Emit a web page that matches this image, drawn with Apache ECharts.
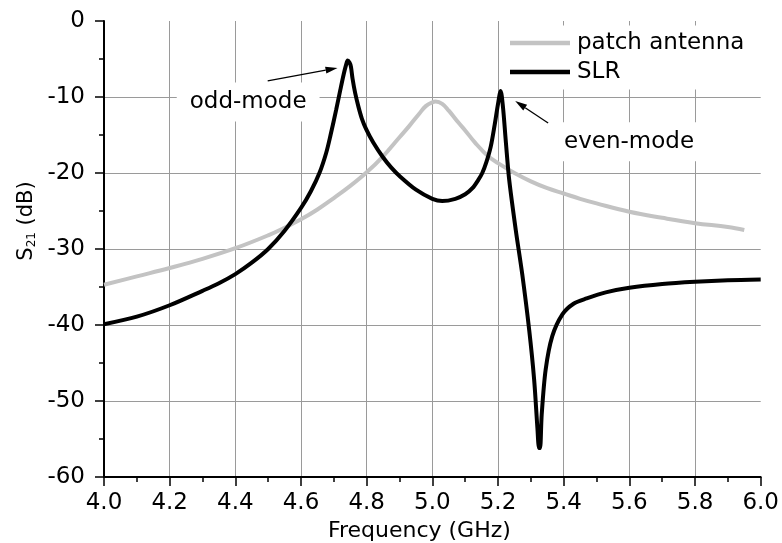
<!DOCTYPE html>
<html><head><meta charset="utf-8">
<script src="https://cdn.jsdelivr.net/npm/echarts@6/dist/echarts.min.js"></script>
<style>html,body{margin:0;padding:0;background:#fff}#c{width:782px;height:543px}</style>
</head><body><div id="c"></div>
<script>
// ---- data (frequency in GHz, S21 in dB) ----
const freqPatch = [4.0,4.1,4.2,4.3,4.4,4.5,4.55,4.6,4.65,4.7,4.75,4.8,4.85,4.9,4.93,4.96,4.98,5.0,5.01,5.03,5.05,5.08,5.1,5.13,5.17,5.2,5.25,5.3,5.35,5.4,5.45,5.5,5.6,5.7,5.8,5.9,5.95];
const s21Patch  = [-34.7,-33.6,-32.5,-31.3,-29.9,-28.2,-27.2,-26.1,-24.8,-23.3,-21.7,-19.9,-17.8,-15.3,-13.8,-12.2,-11.2,-10.7,-10.6,-10.9,-11.8,-13.4,-14.4,-16.0,-17.8,-18.7,-20.0,-21.1,-22.0,-22.7,-23.4,-24.0,-25.1,-25.9,-26.6,-27.1,-27.5];

const freqSLR = [4.0,4.1,4.2,4.3,4.35,4.4,4.45,4.5,4.55,4.6,4.63,4.657,4.677,4.69,4.707,4.72,4.73,4.737,4.742,4.748,4.752,4.757,4.765,4.775,4.785,4.798,4.82,4.849,4.875,4.9,4.95,5.0,5.03,5.07,5.1,5.122,5.14,5.152,5.165,5.178,5.19,5.2,5.208,5.215,5.224,5.234,5.254,5.274,5.295,5.31,5.32,5.325,5.328,5.333,5.345,5.365,5.396,5.43,5.47,5.528,5.6,5.7,5.8,5.9,6.0];
const s21SLR  = [-39.9,-38.9,-37.4,-35.5,-34.5,-33.3,-31.8,-30.0,-27.6,-24.6,-22.4,-19.9,-17.3,-15.0,-11.7,-9.0,-7.0,-5.8,-5.2,-5.5,-6.0,-7.6,-9.5,-11.3,-12.8,-14.2,-16.0,-17.9,-19.3,-20.4,-22.2,-23.4,-23.7,-23.4,-22.8,-22.0,-20.9,-20.0,-18.5,-16.5,-13.6,-10.9,-9.2,-11.3,-16.0,-20.9,-27.5,-33.4,-40.7,-47.2,-53.6,-56.2,-56.2,-51.8,-45.9,-41.5,-38.6,-37.2,-36.5,-35.7,-35.1,-34.6,-34.3,-34.1,-34.0];

const seriesNames = ['patch antenna','SLR'];
const xAxisTitle = 'Frequency (GHz)';
const yAxisTitle = ['S','21',' (dB)'];

// annotations in data coordinates
const annotTexts   = ['odd-mode','even-mode'];
const annotCenters = [[4.439,-10.66],[5.599,-15.88]];
const arrowStarts  = [[4.4985,-7.89],[5.3526,-13.42]];
const arrowEnds    = [[4.7112,-6.18],[5.2523,-10.53]];

const FONT = 'DejaVu Sans';
const zip = (a,b) => a.map((v,i)=>[v,b[i]]);

const chart = echarts.init(document.getElementById('c'), null, {renderer:'canvas'});

const axisCommon = {
  axisLine:{show:true, onZero:false, lineStyle:{color:'#000', width:2}},
  axisTick:{show:true, inside:false, length:9, lineStyle:{color:'#000', width:1.5}},
  minorTick:{show:true, splitNumber:2, length:5, lineStyle:{color:'#000', width:1.5}},
  splitLine:{show:true, showMaxLine:false, lineStyle:{color:'#9a9a9a', width:1}},
};

const option = {
  animation:false,
  backgroundColor:'#fff',
  grid:{left:104, right:20, top:21, bottom:66, containLabel:false},
  xAxis:Object.assign({
    type:'value', min:4.0, max:6.0, interval:0.2,
    axisLabel:{color:'#000', fontFamily:FONT, fontSize:23, margin:15,
      formatter:v=>v.toFixed(1)}
  }, axisCommon),
  yAxis:Object.assign({
    type:'value', min:-60, max:0, interval:10,
    axisLabel:{color:'#000', fontFamily:FONT, fontSize:23, margin:19}
  }, axisCommon),
  legend:{
    orient:'vertical', left:505, top:25.5,
    padding:[6,36,6,5],
    backgroundColor:'#fff',
    icon:'rect',
    itemWidth:60, itemHeight:4.5, itemGap:6,
    textStyle:{color:'#000', fontFamily:FONT, fontSize:23, lineHeight:23, padding:[0,0,0,2]},
    data:seriesNames,
    z:10
  },
  series:[
    {name:seriesNames[0], type:'line', data:zip(freqPatch,s21Patch), showSymbol:false, symbol:'none',
     smooth:0.4,
     lineStyle:{color:'#c3c3c3', width:4}, itemStyle:{color:'#c3c3c3'}, z:2},
    {name:seriesNames[1], type:'line', data:zip(freqSLR,s21SLR), showSymbol:false, symbol:'none',
     smooth:0.3,
     lineStyle:{color:'#000', width:4}, itemStyle:{color:'#000'}, z:3}
  ]
};
chart.setOption(option);

// build annotation graphics from data coordinates
const px = p => chart.convertToPixel({gridIndex:0}, p);
const g = [];
annotTexts.forEach((t,i)=>{
  const c = px(annotCenters[i]);
  g.push({type:'text', x:c[0], y:c[1], z:20,
    style:{text:t, fill:'#000', font:'23px "'+FONT+'"', align:'center', verticalAlign:'middle',
      backgroundColor:'#fff', padding:[8,13,8,13]}});
});
arrowStarts.forEach((s,i)=>{
  const a = px(s), b = px(arrowEnds[i]);
  const dx=b[0]-a[0], dy=b[1]-a[1], L=Math.hypot(dx,dy), ux=dx/L, uy=dy/L;
  const hl=12, hw=3.5;
  const bx=b[0]-ux*hl, by=b[1]-uy*hl;
  g.push({type:'line', z:21, shape:{x1:a[0],y1:a[1],x2:bx,y2:by}, style:{stroke:'#000', lineWidth:1.3}});
  g.push({type:'polygon', z:21, shape:{points:[[b[0],b[1]],[bx-uy*hw,by+ux*hw],[bx+uy*hw,by-ux*hw]]}, style:{fill:'#000'}});
});
// axis titles
const gl = px([4.0,-60]), gr = px([6.0,0]);
g.push({type:'text', x:(gl[0]+gr[0])/2-13, y:531, z:20,
  style:{text:xAxisTitle, fill:'#000', font:'22px "'+FONT+'"', align:'center', verticalAlign:'middle'}});
g.push({type:'text', x:27, y:221, rotation:Math.PI/2, z:20,
  style:{text:'{s|'+yAxisTitle[0]+'}{sub|'+yAxisTitle[1]+'}{s|'+yAxisTitle[2]+'}', align:'center', verticalAlign:'middle',
    rich:{s:{fontFamily:FONT, fontSize:21, lineHeight:21, verticalAlign:'top', fill:'#000', color:'#000'},
          sub:{fontFamily:FONT, fontSize:12, lineHeight:12, verticalAlign:'bottom', padding:[15,0,0,0], fill:'#000', color:'#000'}}}});
chart.setOption({graphic:{elements:g}});
</script></body></html>
